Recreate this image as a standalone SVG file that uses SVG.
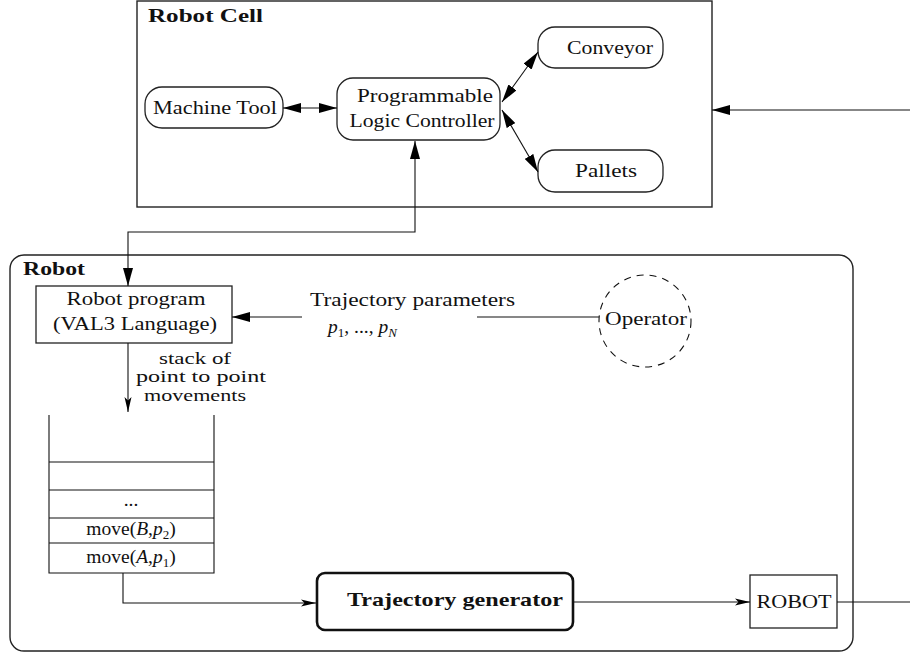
<svg xmlns="http://www.w3.org/2000/svg" width="910" height="653" viewBox="0 0 910 653">
<defs>
<style>
text{font-family:"Liberation Serif","Times New Roman",serif;font-size:19.5px;fill:#111}
.b{font-weight:bold;font-size:19px}
.m{text-anchor:middle}
.i{font-style:italic}
.s{font-size:16.5px}
.box{fill:#fff;stroke:#222;stroke-width:1.3}
.frame{fill:none;stroke:#222;stroke-width:1.4}
.ln{fill:none;stroke:#111;stroke-width:1.1}
.big{marker-end:url(#big)}
.sm{marker-end:url(#sm)}
</style>
<marker id="big" viewBox="0 0 18 10" refX="18" refY="5" markerWidth="18" markerHeight="10" markerUnits="userSpaceOnUse" orient="auto-start-reverse"><path d="M0,0 L18,5 L0,10 z" fill="#000"/></marker>
<marker id="sm" viewBox="0 0 15 8" refX="15" refY="4" markerWidth="15" markerHeight="8" markerUnits="userSpaceOnUse" orient="auto"><path d="M0,0.5 L15,4 L0,7.5 L3.5,4 z" fill="#000"/></marker>
</defs>

<g id="robot-cell">
<rect class="frame" x="137" y="1" width="575" height="206"/>
<text class="b" x="148" y="22" textLength="115" lengthAdjust="spacingAndGlyphs">Robot Cell</text>
</g>

<g id="robot">
<rect class="frame" x="10" y="255" width="843" height="396" rx="14"/>
<text class="b" x="23" y="275" textLength="62" lengthAdjust="spacingAndGlyphs">Robot</text>
</g>

<g id="machine-tool">
<rect class="box" x="145" y="87" width="138" height="41" rx="17"/>
<text class="m" x="215" y="114" textLength="124" lengthAdjust="spacingAndGlyphs">Machine Tool</text>
</g>

<g id="plc">
<rect class="box" x="337" y="78" width="163" height="62" rx="16"/>
<text class="m" x="425" y="102" textLength="136" lengthAdjust="spacingAndGlyphs">Programmable</text>
<text class="m" x="422" y="127" textLength="145" lengthAdjust="spacingAndGlyphs">Logic Controller</text>
</g>

<g id="conveyor">
<rect class="box" x="538" y="27" width="125" height="41" rx="17"/>
<text class="m" x="610" y="54" textLength="86" lengthAdjust="spacingAndGlyphs">Conveyor</text>
</g>

<g id="pallets">
<rect class="box" x="538" y="150" width="125" height="42" rx="17"/>
<text class="m" x="606" y="177" textLength="62" lengthAdjust="spacingAndGlyphs">Pallets</text>
</g>

<g id="robot-program">
<rect class="box" x="36" y="286" width="196" height="57"/>
<text class="m" x="136" y="305" textLength="139" lengthAdjust="spacingAndGlyphs">Robot program</text>
<text class="m" x="135" y="330" textLength="164" lengthAdjust="spacingAndGlyphs">(VAL3 Language)</text>
</g>

<g id="trajectory-parameters">
<text x="310" y="306" textLength="205" lengthAdjust="spacingAndGlyphs">Trajectory parameters</text>
<text x="328" y="333"><tspan class="i">p</tspan><tspan font-size="13" baseline-shift="-4">1</tspan>, ..., <tspan class="i">p</tspan><tspan class="i" font-size="13" baseline-shift="-4">N</tspan></text>
</g>

<g id="operator">
<circle cx="645" cy="321" r="46" fill="none" stroke="#111" stroke-width="1.1" stroke-dasharray="7,6"/>
<text class="m" x="646" y="325" textLength="82" lengthAdjust="spacingAndGlyphs">Operator</text>
</g>

<g id="stack-label">
<text class="m s" x="195" y="364" textLength="72" lengthAdjust="spacingAndGlyphs">stack of</text>
<text class="m s" x="201" y="382" textLength="130" lengthAdjust="spacingAndGlyphs">point to point</text>
<text class="m s" x="195" y="401" textLength="102" lengthAdjust="spacingAndGlyphs">movements</text>
</g>

<g id="stack">
<path class="ln" d="M49,415 V573 H214 V415 M49,462 H214 M49,490 H214 M49,518 H214 M49,543 H214"/>
<text class="m" x="131" y="506">...</text>
<text class="m" x="131" y="535">move(<tspan class="i">B</tspan>,<tspan class="i">p</tspan><tspan font-size="13" baseline-shift="-4">2</tspan>)</text>
<text class="m" x="131" y="563">move(<tspan class="i">A</tspan>,<tspan class="i">p</tspan><tspan font-size="13" baseline-shift="-4">1</tspan>)</text>
</g>

<g id="trajectory-generator">
<rect x="317" y="573" width="256" height="57" rx="8" fill="#fff" stroke="#111" stroke-width="2.6"/>
<text class="b m" x="455" y="606" textLength="216" lengthAdjust="spacingAndGlyphs">Trajectory generator</text>
</g>

<g id="robot-unit">
<rect class="box" x="750" y="575" width="87" height="53"/>
<text class="m" x="794" y="608" textLength="75" lengthAdjust="spacingAndGlyphs">ROBOT</text>
</g>

<g id="connectors">
<path class="ln big" d="M283,108 H337" marker-start="url(#big)"/>
<path class="ln big" d="M502,102 L538,52" marker-start="url(#big)"/>
<path class="ln big" d="M502,110 L538,172" marker-start="url(#big)"/>
<path class="ln big" d="M910,110 H712"/>
<path class="ln big" d="M128,286 V232 H415 V141" marker-start="url(#big)"/>
<path class="ln big" d="M302,317 H232"/>
<path class="ln" d="M477,317 H599"/>
<path class="ln sm" d="M128,343 V412"/>
<path class="ln sm" d="M123,573 V603 H316"/>
<path class="ln sm" d="M573,602 H750"/>
<path class="ln" d="M837,602 H910"/>
</g>
</svg>
